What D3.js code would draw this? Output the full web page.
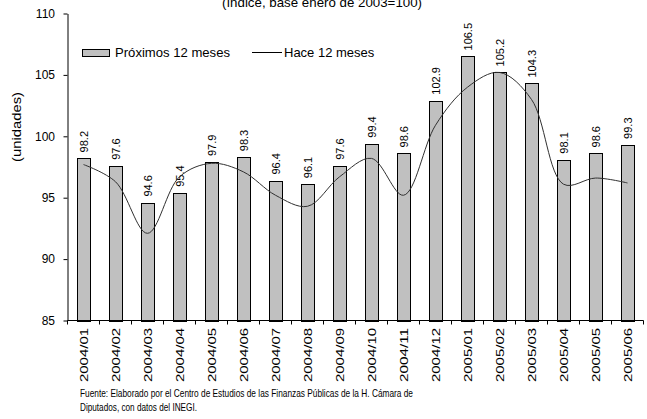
<!DOCTYPE html>
<html>
<head>
<meta charset="utf-8">
<script src="https://cdn.jsdelivr.net/npm/d3@7"></script>
<style>
  body { margin: 0; background: #fff; }
  svg { display: block; font-family: Arial, "Liberation Sans", sans-serif; }
</style>
</head>
<body>
<svg width="647" height="419"></svg>
<script>
// chart: expectativas, próximos 12 meses vs hace 12 meses

var months = ["2004/01", "2004/02", "2004/03", "2004/04", "2004/05", "2004/06",
    "2004/07", "2004/08", "2004/09", "2004/10", "2004/11", "2004/12",
    "2005/01", "2005/02", "2005/03", "2005/04", "2005/05", "2005/06"];

var proximos = [98.2, 97.6, 94.6, 95.4, 97.9, 98.3, 96.4, 96.1, 97.6, 99.4,
    98.6, 102.9, 106.5, 105.2, 104.3, 98.1, 98.6, 99.3];

var hace = [97.7, 96.3, 92.1, 96.7, 97.8, 97.1, 95.2, 94.3, 96.7, 98.2,
    95.2, 100.9, 104.0, 105.2, 103.0, 96.1, 96.6, 96.2];

var yTicks = [85, 90, 95, 100, 105, 110];

var svg = d3.select("svg");

var x = d3.scaleBand()
    .domain(months)
    .range([67.5, 643.5])
    .paddingInner(0.6)
    .paddingOuter(0.3);

var y = d3.scaleLinear()
    .domain([85, 110])
    .range([320.5, 13.5]);

// title (cut at the top of the image, as in the original)
svg.append("text")
    .attr("x", 222)
    .attr("y", 7)
    .attr("font-size", 13)
    .attr("textLength", 200)
    .attr("lengthAdjust", "spacingAndGlyphs")
    .text("(índice, base enero de 2003=100)");

// bars
svg.selectAll("rect.bar")
    .data(proximos)
    .enter()
    .append("rect")
    .attr("class", "bar")
    .attr("x", function(d, i) { return Math.round(x(months[i])) + 0.5; })
    .attr("y", function(d) { return Math.round(y(d)) + 0.5; })
    .attr("width", Math.round(x.bandwidth()))
    .attr("height", function(d) { return Math.round(y(85)) - Math.round(y(d)); })
    .attr("fill", "#c0c0c0")
    .attr("stroke", "#000")
    .attr("stroke-width", 1);

// value labels
svg.selectAll("text.val")
    .data(proximos)
    .enter()
    .append("text")
    .attr("class", "val")
    .attr("font-size", 11)
    .attr("transform", function(d, i) {
        var cx = x(months[i]) + x.bandwidth() / 2 + 4;
        return "translate(" + cx + "," + (y(d) - 6) + ") rotate(-90)";
    })
    .text(function(d) { return d.toFixed(1); });

// smoothed line
var line = d3.line()
    .x(function(d, i) { return x(months[i]) + x.bandwidth() / 2; })
    .y(function(d) { return y(d); })
    .curve(d3.curveCatmullRom.alpha(0.5));

svg.append("path")
    .datum(hace)
    .attr("d", line)
    .attr("fill", "none")
    .attr("stroke", "#303030")
    .attr("stroke-width", 1);

// y axis
var yAxis = d3.axisLeft(y)
    .tickValues(yTicks)
    .tickSize(4)
    .tickSizeOuter(0)
    .tickFormat(d3.format("d"));

var gy = svg.append("g")
    .attr("transform", "translate(67.5,0)")
    .call(yAxis);
gy.select(".domain").attr("stroke", "#000");
gy.selectAll("text")
    .attr("font-size", 12)
    .attr("font-family", "Arial, 'Liberation Sans', sans-serif")
    .attr("fill", "#000")
    .attr("x", -12.5);

// x axis: ticks at band boundaries
var gx = svg.append("g")
    .attr("transform", "translate(0,320.5)");
gx.append("line")
    .attr("x1", 67.5).attr("x2", 643.5)
    .attr("y1", 0).attr("y2", 0)
    .attr("stroke", "#000");
var step = x.step();
var bounds = d3.range(months.length + 1).map(function(i) { return 67.5 + i * step; });
gx.selectAll("line.tk")
    .data(bounds)
    .enter()
    .append("line")
    .attr("class", "tk")
    .attr("x1", function(d) { return Math.round(d - 0.5) + 0.5; })
    .attr("x2", function(d) { return Math.round(d - 0.5) + 0.5; })
    .attr("y1", 0).attr("y2", 4)
    .attr("stroke", "#000");
gx.selectAll("text")
    .data(months)
    .enter()
    .append("text")
    .attr("font-size", 11)
    .attr("text-anchor", "end")
    .attr("textLength", 54)
    .attr("lengthAdjust", "spacingAndGlyphs")
    .attr("transform", function(d) {
        var cx = x(d) + x.bandwidth() / 2 + 4;
        return "translate(" + cx + ",7.5) rotate(-90)";
    })
    .text(function(d) { return d; });

// y axis title
svg.append("text")
    .attr("font-size", 12)
    .attr("text-anchor", "middle")
    .attr("textLength", 70)
    .attr("lengthAdjust", "spacingAndGlyphs")
    .attr("transform", "translate(21,127) rotate(-90)")
    .text("(unidades)");

// legend
var lg = svg.append("g");
lg.append("rect")
    .attr("x", 82.5).attr("y", 49.5)
    .attr("width", 27).attr("height", 7)
    .attr("fill", "#c0c0c0")
    .attr("stroke", "#000");
lg.append("text")
    .attr("x", 115).attr("y", 57)
    .attr("font-size", 13)
    .attr("textLength", 115)
    .attr("lengthAdjust", "spacingAndGlyphs")
    .text("Próximos 12 meses");
lg.append("line")
    .attr("x1", 252).attr("x2", 282)
    .attr("y1", 52.5).attr("y2", 52.5)
    .attr("stroke", "#000");
lg.append("text")
    .attr("x", 284).attr("y", 57)
    .attr("font-size", 13)
    .text("Hace 12 meses");

// source note
svg.append("text")
    .attr("x", 80).attr("y", 397)
    .attr("font-size", 10.5)
    .attr("textLength", 333)
    .attr("lengthAdjust", "spacingAndGlyphs")
    .text("Fuente: Elaborado por el Centro de Estudios de las Finanzas Públicas de la H. Cámara de");
svg.append("text")
    .attr("x", 80).attr("y", 411)
    .attr("font-size", 10.5)
    .attr("textLength", 117)
    .attr("lengthAdjust", "spacingAndGlyphs")
    .text("Diputados, con datos del INEGI.");
</script>
</body>
</html>
